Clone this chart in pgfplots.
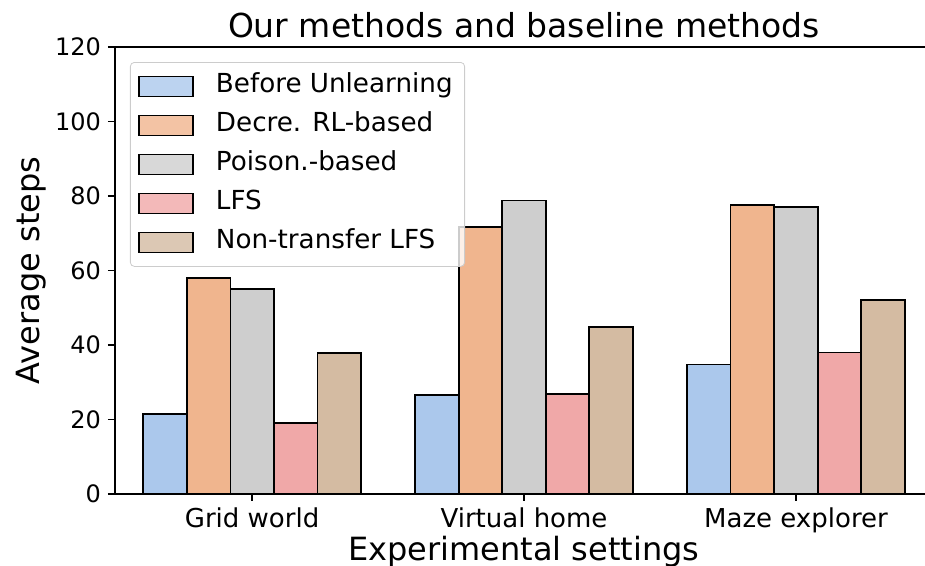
\documentclass[border=0pt]{standalone}
\usepackage{fontspec}
\setmainfont{DejaVu Sans}
\usepackage{pgfplots}
\pgfplotsset{compat=1.18}
\definecolor{cblue}{RGB}{171,200,236}
\definecolor{corange}{RGB}{240,181,142}
\definecolor{cgray}{RGB}{206,206,206}
\definecolor{cpink}{RGB}{240,168,168}
\definecolor{ctan}{RGB}{212,187,162}
\begin{document}
\begin{tikzpicture}
\begin{axis}[name=ax, at={(0,0)}, anchor=south west,
  scale only axis, width=409pt, height=223.5pt,
  xmin=-0.504, xmax=2.504, ymin=0, ymax=120,
  xtick={0,1,2}, xticklabels={Grid world, Virtual home, Maze explorer},
  ytick={0,20,...,120},
  tick align=outside, xtick pos=left, ytick pos=left,
  major tick length=3.5pt,
  tick style={black, line width=0.8pt},
  axis line style={line width=0.8pt, black},
  /pgf/number format/assume math mode=true,
  yticklabel style={font=\fontsize{12}{14}\selectfont},
  xticklabel style={font=\fontsize{13}{15}\selectfont},
  title={Our methods and baseline methods},
  title style={font=\fontsize{16.5}{19}\selectfont, at={(axis description cs:0.5,1)}, anchor=base, yshift=-1.5pt},
  xlabel={Experimental settings},
  xlabel style={font=\fontsize{16}{19}\selectfont, at={(axis description cs:0.5,0)}, anchor=base, yshift=-33.5pt},
  ylabel={Average steps},
  ylabel style={font=\fontsize{16}{19}\selectfont, at={(axis description cs:-0.092,0.5)}, anchor=base},
  legend cell align=left,
  legend image code/.code={\draw[#1, line width=0.8pt, sharp corners] (0pt,-5pt) rectangle (27pt,5pt);},
  legend style={at={(axis description cs:0.0183,0.9664)}, anchor=north west,
    draw=black!20, rounded corners=2pt, fill=white, fill opacity=0.8, text opacity=1,
    font=\fontsize{13.1}{15}\selectfont, row sep=3.5pt, column sep=9pt, inner sep=4pt,
    nodes={inner sep=2pt, text height=9pt, text depth=3pt}},
]
\addplot[ybar, bar width=0.16, bar shift=-0.32, fill=cblue, draw=black, line width=0.8pt] coordinates {(0,21.5) (1,26.6) (2,34.8)};
\addplot[ybar, bar width=0.16, bar shift=-0.16, fill=corange, draw=black, line width=0.8pt] coordinates {(0,58.0) (1,71.6) (2,77.6)};
\addplot[ybar, bar width=0.16, bar shift=0, fill=cgray, draw=black, line width=0.8pt] coordinates {(0,55.0) (1,78.8) (2,77.0)};
\addplot[ybar, bar width=0.16, bar shift=0.16, fill=cpink, draw=black, line width=0.8pt] coordinates {(0,19.0) (1,26.8) (2,38.0)};
\addplot[ybar, bar width=0.16, bar shift=0.32, fill=ctan, draw=black, line width=0.8pt] coordinates {(0,37.8) (1,44.8) (2,52.0)};
\legend{Before Unlearning, Decre. RL-based, Poison.-based, LFS, Non-transfer LFS}
\end{axis}
\pgfresetboundingbox
\path[use as bounding box] ([shift={(-57.5pt,-36pt)}]ax.south west) rectangle ([shift={(405pt,247pt)}]ax.south west);
\end{tikzpicture}
\end{document}
